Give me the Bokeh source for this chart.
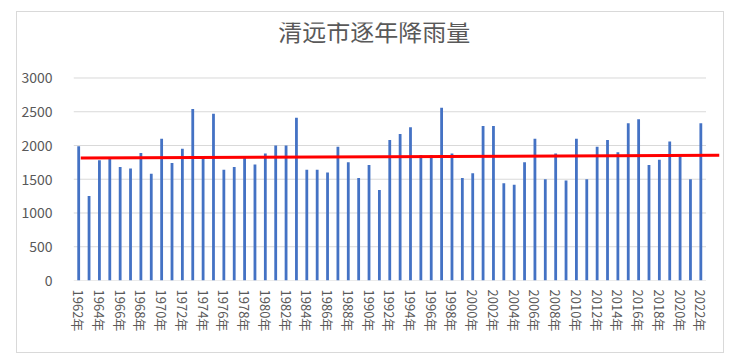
from bokeh.plotting import figure
from bokeh.models import FixedTicker, ColumnDataSource, Range1d, Label
from bokeh.embed import file_html
from bokeh.resources import INLINE

years = list(range(1962, 2023))
rain = [1990, 1250, 1780, 1810, 1680, 1660, 1890, 1580, 2100, 1740,
        1950, 2540, 1800, 2470, 1640, 1680, 1820, 1720, 1880, 2000,
        2000, 2410, 1640, 1640, 1600, 1980, 1750, 1520, 1710, 1340,
        2080, 2170, 2270, 1860, 1860, 2560, 1880, 1520, 1590, 2290,
        2290, 1440, 1420, 1750, 2100, 1500, 1880, 1480, 2100, 1500,
        1980, 2080, 1900, 2330, 2390, 1710, 1790, 2060, 1840, 1500, 2330]
trend_x = [1962.2, 2023.8]
trend_y = [1815, 1855]
y_ticks = [0, 500, 1000, 1500, 2000, 2500, 3000]
label_years = years[::2]
x_labels = {y: f"{y}年" for y in label_years}
title_text = "清远市逐年降雨量"

FONT = "Noto Sans CJK SC"
TXT = "#595959"
GRID = "#D9D9D9"

x0, x1 = years[0] - 0.5, years[-1] + 0.5

# the frame reaches up into the title area; the axis only labels 0..3000
p = figure(width=708, height=342, output_backend="svg", toolbar_location=None,
           x_range=Range1d(x0, trend_x[1]), y_range=Range1d(0, 3822),
           min_border_left=56, min_border_right=6, min_border_top=10, min_border_bottom=74,
           margin=(11, 0, 0, 16), styles={"border": "1px solid #D9D9D9"})
p.outline_line_color = None
p.xgrid.visible = False
p.ygrid.visible = False

p.add_layout(Label(x=1990.5, y=3700, text=title_text, text_font=FONT,
                   text_font_size="24px", text_color=TXT,
                   text_align="center", text_baseline="middle"))

# own gridlines limited to category span
p.segment(x0=[x0] * len(y_ticks), x1=[x1] * len(y_ticks), y0=y_ticks, y1=y_ticks,
          line_color=GRID, line_width=1)

src = ColumnDataSource(dict(x=years, top=rain))
p.vbar(x="x", top="top", width=0.27, bottom=0, source=src, fill_color="#4472C4", line_color=None)

p.line(trend_x, trend_y, line_color="#FF0000", line_width=3)

p.yaxis.ticker = FixedTicker(ticks=y_ticks)
p.yaxis.axis_line_color = None
p.yaxis.major_tick_line_color = None
p.yaxis.minor_tick_line_color = None
p.yaxis.major_label_text_font = FONT
p.yaxis.major_label_text_font_size = "14px"
p.yaxis.major_label_text_color = TXT
p.yaxis.major_label_standoff = 15

p.xaxis.ticker = FixedTicker(ticks=label_years)
p.xaxis.major_label_overrides = x_labels
p.xaxis.major_label_orientation = "vertical"
p.xaxis.axis_line_color = None
p.xaxis.major_tick_line_color = None
p.xaxis.minor_tick_line_color = None
p.xaxis.major_label_text_font = FONT
p.xaxis.major_label_text_font_size = "13px"
p.xaxis.major_label_text_color = TXT
p.xaxis.major_label_standoff = 3

open("out.html", "w").write(file_html(p, INLINE))
